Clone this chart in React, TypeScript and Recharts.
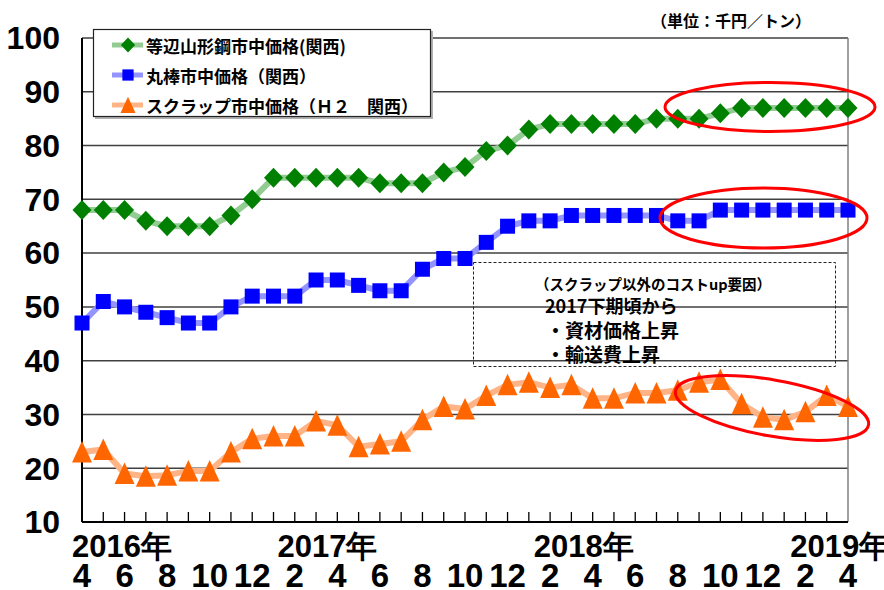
import React from 'react';
import { LineChart, Line, XAxis, YAxis, CartesianGrid, ReferenceLine } from 'recharts';

// Months from April 2016 to April 2019
const months = [4, 5, 6, 7, 8, 9, 10, 11, 12, 1, 2, 3, 4, 5, 6, 7, 8, 9, 10, 11, 12, 1, 2, 3, 4, 5, 6, 7, 8, 9, 10, 11, 12, 1, 2, 3, 4];

// 等辺山形鋼市中価格（関西）
const angleSteel = [68, 68, 68, 66, 65, 65, 65, 67, 70, 74, 74, 74, 74, 74, 73, 73, 73, 75, 76, 79, 80, 83, 84, 84, 84, 84, 84, 85, 85, 85, 86, 87, 87, 87, 87, 87, 87];
// 丸棒市中価格（関西）
const roundBar = [47, 51, 50, 49, 48, 47, 47, 50, 52, 52, 52, 55, 55, 54, 53, 53, 57, 59, 59, 62, 65, 66, 66, 67, 67, 67, 67, 67, 66, 66, 68, 68, 68, 68, 68, 68, 68];
// スクラップ市中価格（Ｈ２ 関西）
const scrap = [23, 23.5, 19, 18.5, 18.7, 19.5, 19.5, 23, 25.5, 26, 26, 28.8, 28, 24, 24.5, 25, 29, 31.5, 31, 33.5, 35.5, 36, 35, 35.5, 33, 33, 34, 34, 34.5, 36, 36.5, 32, 29.5, 29, 30.5, 33.5, 31.5];

const yTicks = [10, 20, 30, 40, 50, 60, 70, 80, 90, 100];
const yearLabels = ['2016年', '2017年', '2018年', '2019年'];
const yearTickIdx = [0, 9, 21, 33];

const seriesNames = ['等辺山形鋼市中価格(関西)', '丸棒市中価格（関西）', 'スクラップ市中価格（Ｈ２　関西）'];
const noteLines = ['（スクラップ以外のコストup要因）', '2017下期頃から', '・資材価格上昇', '・輸送費上昇'];
const unitLabel = '（単位：千円／トン）';

const data = months.map((m, i) => ({
  idx: i,
  month: m,
  angle: angleSteel[i],
  bar: roundBar[i],
  scrap: scrap[i],
}));

const tickIdx = months.map((_, i) => i);

const GREEN = '#008000';
const BLUE = '#0000FF';
const ORANGE = '#FF6600';
const GREEN_L = '#93cc93';
const BLUE_L = '#9494ff';
const ORANGE_L = '#ffb488';

const NUM_FONT = "'Liberation Sans', Arial, sans-serif";
const JP_FONT = "'Noto Sans CJK JP', sans-serif";

const diamondPath = (cx: number, cy: number) => `M${cx},${cy - 10}L${cx + 9.5},${cy}L${cx},${cy + 10}L${cx - 9.5},${cy}Z`;
const squarePath = (cx: number, cy: number) => `M${cx - 7.5},${cy - 7.5}h15v15h-15Z`;
const trianglePath = (cx: number, cy: number) => `M${cx},${cy - 11}L${cx + 10},${cy + 10.5}L${cx - 10},${cy + 10.5}Z`;

const makeDot = (pathFn: (x: number, y: number) => string, color: string) => (props: any) => {
  const { cx, cy, index } = props;
  if (cx == null || cy == null) return <g key={`d-${index}`} />;
  return <path key={`d-${index}`} d={pathFn(cx, cy)} fill={color} />;
};

const yearDx = [-10, 4, 5, 6];

const XTick = (props: any) => {
  const { x, y, payload } = props;
  const i = payload.value as number;
  const m = months[i];
  const yi = yearTickIdx.indexOf(i);
  return (
    <g>
      {i > 0 && i < months.length - 1 && (
        <line x1={x} y1={y} x2={x} y2={y - 10} stroke="#000" strokeWidth={1.3} />
      )}
      {i % 2 === 0 && (
        <text x={x} y={y + 65} textAnchor="middle" fontSize={33} fontWeight={700} fontFamily={NUM_FONT} fill="#000">
          {m}
        </text>
      )}
      {yi >= 0 && (
        <text x={x + yearDx[yi]} y={y + 35} textAnchor="start" fontSize={31} fontWeight={700} fontFamily={NUM_FONT} fill="#000">
          {yearLabels[yi]}
        </text>
      )}
    </g>
  );
};

const legendItems = [
  { name: seriesNames[0], light: GREEN_L, color: GREEN, path: diamondPath },
  { name: seriesNames[1], light: BLUE_L, color: BLUE, path: squarePath },
  { name: seriesNames[2], light: ORANGE_L, color: ORANGE, path: trianglePath },
];

const Overlay = () => (
  <svg
    width={884}
    height={590}
    style={{ position: 'absolute', left: 0, top: 0, pointerEvents: 'none' }}
  >
    {/* unit label */}
    <text x={651} y={20} dominantBaseline="central" fontSize={16} fontWeight={700} fontFamily={JP_FONT} fill="#000">
      {unitLabel}
    </text>

    {/* legend */}
    <rect x={95} y={31} width={338} height={88} fill="#b0b0b0" />
    <rect x={93.5} y={29.5} width={337} height={87} fill="#fff" stroke="#222" strokeWidth={1.2} />
    {legendItems.map((it, k) => {
      const cy = 45 + k * 30;
      const scale = 0.75;
      return (
        <g key={k}>
          <line x1={112} y1={cy} x2={143} y2={cy} stroke={it.light} strokeWidth={5} />
          <g transform={`translate(${128},${cy}) scale(${scale}) translate(${-128},${-cy})`}>
            <path d={it.path(128, cy)} fill={it.color} />
          </g>
          <text x={146} y={cy} dominantBaseline="central" fontSize={17} fontWeight={700} fontFamily={JP_FONT} fill="#000">
            {it.name}
          </text>
        </g>
      );
    })}

    {/* annotation box */}
    <rect x={473.5} y={262.5} width={362} height={104} fill="none" stroke="#222" strokeWidth={1} strokeDasharray="3 2" />
    <text x={535} y={283} dominantBaseline="central" fontSize={14.5} fontWeight={700} fontFamily={JP_FONT} fill="#000">
      {noteLines[0]}
    </text>
    <text x={545} y={305} dominantBaseline="central" fontSize={18} fontWeight={700} fontFamily={JP_FONT} fill="#000">
      {noteLines[1]}
    </text>
    <text x={546} y={329} dominantBaseline="central" fontSize={19} fontWeight={700} fontFamily={JP_FONT} fill="#000">
      {noteLines[2]}
    </text>
    <text x={546} y={353} dominantBaseline="central" fontSize={19} fontWeight={700} fontFamily={JP_FONT} fill="#000">
      {noteLines[3]}
    </text>

    {/* red ellipses */}
    <ellipse cx={770} cy={107} rx={105} ry={24.5} fill="none" stroke="#FF0000" strokeWidth={3} />
    <ellipse cx={763.5} cy={218} rx={103.5} ry={30} fill="none" stroke="#FF0000" strokeWidth={3} />
    <ellipse cx={772} cy={408} rx={98} ry={28} fill="none" stroke="#FF0000" strokeWidth={3} transform="rotate(10 772 408)" />
  </svg>
);

export default function App() {
  return (
    <div style={{ position: 'absolute', left: 0, top: 0, width: 884, height: 590, background: '#fff' }}>
      <LineChart
        width={884}
        height={590}
        data={data}
        margin={{ top: 38, right: 36, bottom: 0, left: 0 }}
      >
        <CartesianGrid horizontal vertical={false} stroke="#404040" strokeWidth={1.5} />
        <ReferenceLine x={36} stroke="#7f7f7f" strokeWidth={1.5} />
        <XAxis
          dataKey="idx"
          type="number"
          domain={[0, 36]}
          ticks={tickIdx}
          interval={0}
          tickSize={0}
          tickMargin={0}
          tickLine={false}
          axisLine={{ stroke: '#000', strokeWidth: 2 }}
          tick={<XTick />}
          height={68}
        />
        <YAxis
          type="number"
          domain={[10, 100]}
          ticks={yTicks}
          interval={0}
          tickLine={false}
          tickSize={0}
          tickMargin={22}
          width={82}
          axisLine={{ stroke: '#000', strokeWidth: 2 }}
          tick={{ fontSize: 32, fontWeight: 700, fill: '#000', fontFamily: NUM_FONT }}
        />
        <Line
          type="linear"
          dataKey="angle"
          stroke={GREEN_L}
          strokeWidth={6}
          dot={makeDot(diamondPath, GREEN)}
          activeDot={false}
          isAnimationActive={false}
        />
        <Line
          type="linear"
          dataKey="bar"
          stroke={BLUE_L}
          strokeWidth={6}
          dot={makeDot(squarePath, BLUE)}
          activeDot={false}
          isAnimationActive={false}
        />
        <Line
          type="linear"
          dataKey="scrap"
          stroke={ORANGE_L}
          strokeWidth={6}
          dot={makeDot(trianglePath, ORANGE)}
          activeDot={false}
          isAnimationActive={false}
        />
      </LineChart>
      <Overlay />
    </div>
  );
}
